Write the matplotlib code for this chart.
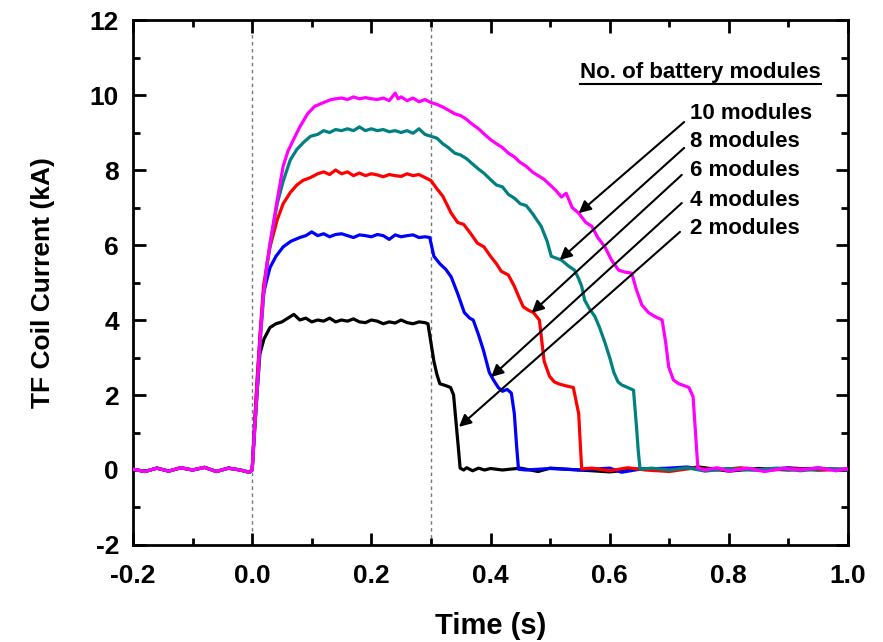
#!/usr/bin/env python3
"""TF coil current for different numbers of battery modules."""

import matplotlib
matplotlib.use("Agg")
import matplotlib.pyplot as plt
from matplotlib.ticker import MultipleLocator

plt.rcParams["axes.unicode_minus"] = False

# (time s, current kA), one list per curve
pre_trigger = [(-0.2, 0.02), (-0.18, -0.04), (-0.16, 0.05), (-0.14, -0.03), (-0.12, 0.06),
               (-0.1, 0.0), (-0.08, 0.07), (-0.06, -0.04), (-0.04, 0.05), (-0.02, 0.0),
               (-0.005, -0.06), (0.0, 0.0)]

mod2 = [(0.004, 1.0), (0.008, 2.0), (0.013, 3.1), (0.02, 3.5), (0.03, 3.8), (0.04, 3.9),
        (0.05, 3.95), (0.06, 4.05), (0.07, 4.15), (0.08, 4.0), (0.09, 4.05), (0.1, 3.95),
        (0.11, 4.0), (0.12, 3.97), (0.13, 4.05), (0.14, 3.95), (0.15, 4.0), (0.16, 3.97),
        (0.17, 4.03), (0.18, 3.95), (0.19, 3.93), (0.2, 4.0), (0.21, 3.97), (0.22, 3.9),
        (0.23, 3.95), (0.24, 3.92), (0.25, 4.0), (0.26, 3.93), (0.27, 3.9), (0.28, 3.95),
        (0.29, 3.93), (0.295, 3.9), (0.3, 3.4), (0.305, 2.9), (0.31, 2.55), (0.315, 2.3),
        (0.325, 2.25), (0.333, 2.2), (0.338, 2.0), (0.342, 1.3), (0.346, 0.6), (0.349, 0.05),
        (0.355, 0.0), (0.36, 0.06), (0.37, -0.02), (0.38, 0.05), (0.39, 0.0), (0.4, 0.04),
        (0.42, 0.0), (0.45, 0.05), (0.48, -0.04), (0.5, 0.05), (0.55, 0.0), (0.6, -0.05),
        (0.65, 0.03), (0.7, 0.0), (0.75, 0.08), (0.8, -0.03), (0.85, 0.04), (0.9, 0.0),
        (0.95, 0.05), (1.0, 0.0)]

mod4 = [(0.004, 1.2), (0.009, 2.5), (0.014, 3.7), (0.019, 4.7), (0.025, 5.1), (0.03, 5.4),
        (0.04, 5.7), (0.052, 5.95), (0.065, 6.1), (0.08, 6.2), (0.09, 6.25), (0.1, 6.35),
        (0.11, 6.25), (0.12, 6.3), (0.13, 6.22), (0.14, 6.28), (0.15, 6.3), (0.16, 6.25),
        (0.17, 6.2), (0.18, 6.27), (0.19, 6.25), (0.2, 6.22), (0.21, 6.28), (0.22, 6.25),
        (0.23, 6.15), (0.24, 6.27), (0.25, 6.22), (0.26, 6.25), (0.27, 6.27), (0.28, 6.2),
        (0.29, 6.22), (0.298, 6.2), (0.305, 5.7), (0.315, 5.5), (0.325, 5.35), (0.334, 5.15),
        (0.345, 4.7), (0.356, 4.2), (0.365, 4.05), (0.371, 4.0), (0.38, 3.6), (0.388, 3.2),
        (0.398, 2.6), (0.405, 2.4), (0.413, 2.2), (0.42, 2.1), (0.428, 2.15), (0.435, 2.05),
        (0.44, 1.5), (0.444, 0.6), (0.447, 0.02), (0.46, 0.0), (0.5, 0.04), (0.55, 0.0),
        (0.6, 0.05), (0.62, -0.06), (0.65, 0.02), (0.7, 0.05), (0.73, 0.08), (0.76, 0.0),
        (0.8, 0.03), (0.85, 0.0), (0.9, 0.06), (0.95, 0.0), (1.0, 0.03)]

mod6 = [(0.004, 1.2), (0.009, 2.6), (0.014, 3.8), (0.019, 4.9), (0.025, 5.5), (0.03, 5.95),
        (0.042, 6.67), (0.052, 7.1), (0.064, 7.4), (0.075, 7.6), (0.085, 7.72), (0.098, 7.8),
        (0.11, 7.9), (0.12, 7.95), (0.13, 7.88), (0.14, 8.0), (0.15, 7.9), (0.16, 7.95),
        (0.17, 7.85), (0.18, 7.92), (0.19, 7.85), (0.2, 7.9), (0.21, 7.87), (0.22, 7.82),
        (0.23, 7.88), (0.24, 7.85), (0.25, 7.83), (0.26, 7.9), (0.27, 7.85), (0.28, 7.88),
        (0.29, 7.8), (0.3, 7.72), (0.31, 7.5), (0.32, 7.3), (0.334, 6.85), (0.345, 6.6),
        (0.355, 6.55), (0.367, 6.3), (0.378, 6.05), (0.389, 5.95), (0.4, 5.7), (0.41, 5.5),
        (0.418, 5.3), (0.43, 5.2), (0.44, 4.9), (0.448, 4.6), (0.455, 4.35), (0.465, 4.25),
        (0.472, 4.2), (0.482, 4.0), (0.49, 2.9), (0.499, 2.5), (0.507, 2.35), (0.514, 2.3),
        (0.525, 2.25), (0.539, 2.2), (0.548, 1.5), (0.551, 0.6), (0.553, 0.03), (0.57, 0.05),
        (0.6, -0.02), (0.63, 0.06), (0.66, 0.0), (0.7, -0.04), (0.74, 0.05), (0.78, 0.0),
        (0.82, 0.06), (0.86, -0.02), (0.9, 0.04), (0.95, 0.0), (1.0, 0.02)]

mod8 = [(0.004, 1.1), (0.008, 2.0), (0.013, 3.3), (0.019, 4.6), (0.025, 5.5), (0.03, 6.0),
        (0.042, 7.1), (0.052, 7.7), (0.064, 8.27), (0.075, 8.55), (0.087, 8.75), (0.098, 8.9),
        (0.11, 8.95), (0.12, 9.05), (0.13, 9.0), (0.14, 9.08), (0.15, 9.05), (0.16, 9.1),
        (0.17, 9.05), (0.18, 9.15), (0.19, 9.05), (0.2, 9.1), (0.21, 9.05), (0.22, 9.08),
        (0.23, 9.02), (0.24, 9.05), (0.25, 9.0), (0.26, 9.05), (0.27, 8.98), (0.28, 9.1),
        (0.29, 8.95), (0.3, 8.9), (0.31, 8.85), (0.32, 8.7), (0.329, 8.6), (0.34, 8.45),
        (0.35, 8.4), (0.36, 8.3), (0.367, 8.2), (0.378, 8.05), (0.39, 7.9), (0.401, 7.73),
        (0.41, 7.6), (0.42, 7.55), (0.43, 7.35), (0.44, 7.25), (0.45, 7.1), (0.46, 7.05),
        (0.47, 6.85), (0.485, 6.5), (0.495, 6.1), (0.502, 5.7), (0.51, 5.65), (0.519, 5.6),
        (0.53, 5.45), (0.541, 5.33), (0.548, 5.1), (0.553, 4.9), (0.558, 4.53), (0.566, 4.3),
        (0.575, 4.1), (0.583, 3.8), (0.592, 3.4), (0.6, 3.0), (0.607, 2.6), (0.614, 2.35),
        (0.62, 2.27), (0.63, 2.2), (0.64, 2.13), (0.645, 1.15), (0.648, 0.5), (0.651, 0.02),
        (0.67, 0.05), (0.7, 0.0), (0.73, 0.06), (0.76, -0.03), (0.8, 0.04), (0.84, 0.0),
        (0.88, 0.05), (0.92, -0.02), (0.96, 0.04), (1.0, 0.0)]

mod10 = [(0.002, 0.5), (0.008, 2.05), (0.013, 3.4), (0.019, 4.7), (0.025, 5.5), (0.03, 6.05),
         (0.042, 7.2), (0.052, 8.1), (0.06, 8.5), (0.069, 8.8), (0.08, 9.15), (0.093, 9.5),
         (0.105, 9.7), (0.12, 9.8), (0.131, 9.87), (0.14, 9.9), (0.15, 9.92), (0.16, 9.88),
         (0.17, 9.95), (0.18, 9.9), (0.19, 9.93), (0.2, 9.9), (0.21, 9.88), (0.22, 9.92),
         (0.23, 9.85), (0.24, 10.05), (0.245, 9.9), (0.25, 9.95), (0.26, 9.85), (0.27, 9.92),
         (0.28, 9.82), (0.29, 9.88), (0.3, 9.8), (0.31, 9.75), (0.32, 9.68), (0.329, 9.6),
         (0.34, 9.5), (0.35, 9.45), (0.36, 9.35), (0.367, 9.25), (0.38, 9.1), (0.39, 8.95),
         (0.401, 8.8), (0.41, 8.7), (0.42, 8.6), (0.43, 8.45), (0.44, 8.35), (0.45, 8.2),
         (0.46, 8.1), (0.47, 7.95), (0.48, 7.85), (0.49, 7.75), (0.5, 7.6), (0.51, 7.45),
         (0.519, 7.28), (0.527, 7.38), (0.537, 7.0), (0.548, 6.85), (0.56, 6.6), (0.57, 6.5),
         (0.58, 6.2), (0.592, 5.95), (0.603, 5.6), (0.615, 5.33), (0.625, 5.28), (0.637, 5.25),
         (0.645, 4.8), (0.654, 4.4), (0.665, 4.2), (0.675, 4.1), (0.688, 4.0), (0.694, 3.4),
         (0.699, 2.75), (0.707, 2.4), (0.716, 2.3), (0.725, 2.25), (0.733, 2.2), (0.74, 1.95),
         (0.744, 1.0), (0.748, 0.05), (0.76, 0.0), (0.78, 0.06), (0.8, -0.03), (0.83, 0.05),
         (0.86, -0.04), (0.89, 0.04), (0.92, 0.0), (0.95, 0.06), (0.98, -0.02), (1.0, 0.03)]

series = [mod2, mod4, mod6, mod8, mod10]
colors = ["black", "#0000FF", "#FF0000", "#008080", "#FF00FF"]

labels = ["10 modules", "8 modules", "6 modules", "4 modules", "2 modules"]
label_y = [9.52, 8.75, 8.0, 7.2, 6.45]
arrow_tail = [(0.725, 9.28), (0.725, 8.59), (0.721, 7.87), (0.721, 7.12), (0.718, 6.35)]
arrow_head = [(0.548, 6.85), (0.516, 5.6), (0.469, 4.19), (0.401, 2.48), (0.347, 1.15)]
marker_times = [0.0, 0.3]

fig = plt.figure(figsize=(8.83, 6.42), dpi=100)
ax = fig.add_axes([0.1506, 0.1511, 0.8098, 0.8177])

for t in marker_times:
    ax.axvline(t, color="#777777", lw=1.0, ls=(0, (2.5, 2.5)), zorder=1)

for pts, c in zip(series, colors):
    t = [p[0] for p in pre_trigger + pts]
    v = [p[1] for p in pre_trigger + pts]
    ax.plot(t, v, color=c, lw=2.3, zorder=3)

ax.set_xlim(-0.2, 1.0)
ax.set_ylim(-2, 12)
ax.xaxis.set_major_locator(MultipleLocator(0.2))
ax.xaxis.set_minor_locator(MultipleLocator(0.1))
ax.yaxis.set_major_locator(MultipleLocator(2))
ax.yaxis.set_minor_locator(MultipleLocator(1))
ax.xaxis.set_major_formatter(plt.FuncFormatter(lambda x, _: f"{x:.1f}"))
ax.tick_params(which="both", direction="in", top=True, right=True, width=2)
ax.tick_params(which="major", length=9)
ax.tick_params(which="minor", length=5)
for s in ax.spines.values():
    s.set_linewidth(2)

for lab in ax.get_xticklabels():
    lab.set_fontfamily("Liberation Sans")
    lab.set_fontweight("bold")
    lab.set_fontsize(19)
for lab in ax.get_yticklabels():
    lab.set_fontfamily("Liberation Sans")
    lab.set_fontweight("bold")
    lab.set_fontsize(19)
ax.tick_params(axis="x", pad=14)
ax.tick_params(axis="y", pad=10)

ax.set_xlabel("Time (s)", fontsize=21, fontweight="bold", family="Liberation Sans")
ax.xaxis.set_label_coords(0.5, -0.127)
ax.set_ylabel("TF Coil Current (kA)", fontsize=19, fontweight="bold",
              family="Liberation Sans")
ax.yaxis.set_label_coords(-0.109, 0.5)

title = ax.text(0.954, 10.6, "No. of battery modules", ha="right", va="center",
                fontsize=16, fontweight="bold", family="Liberation Sans")
for lab, y in zip(labels, label_y):
    ax.text(0.735, y, lab, ha="left", va="center", fontsize=16,
            fontweight="bold", family="Liberation Sans")
for tail, head in zip(arrow_tail, arrow_head):
    ax.annotate("", xy=head, xytext=tail,
                arrowprops=dict(arrowstyle="-|>", color="black", lw=1.5,
                                mutation_scale=18, shrinkA=0, shrinkB=0))

# underline the legend title
fig.canvas.draw()
bb = title.get_window_extent().transformed(ax.transData.inverted())
ax.plot([bb.x0, bb.x1], [bb.y0 - 0.02, bb.y0 - 0.02], color="black", lw=1.5)

fig.savefig("out.png", dpi=100)
